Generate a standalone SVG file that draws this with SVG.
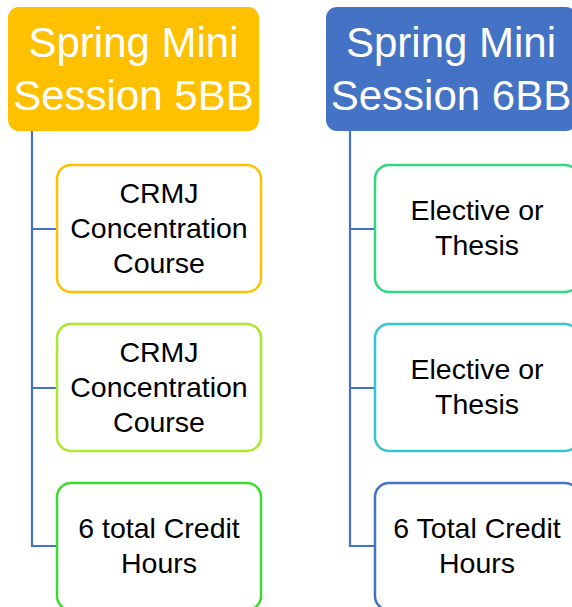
<svg xmlns="http://www.w3.org/2000/svg" width="572" height="607" viewBox="0 0 572 607">
<style>
.hdr text{font-family:"Liberation Sans",Arial,sans-serif;font-size:42px;fill:#ffffff;text-anchor:middle}
.box rect{fill:#ffffff;stroke-width:2.5}
.box text{font-family:"Liberation Sans",Arial,sans-serif;font-size:28.5px;fill:#000000;text-anchor:middle}
.conn{fill:none;stroke:#4472C4;stroke-width:2.2}
</style>
<rect width="572" height="607" fill="#ffffff"/>
<g id="connectors">
<path class="conn" d="M32,131 V546 H57 M32,229 H57 M32,388 H57"/>
<path class="conn" d="M350,131 V546 H375 M350,229 H375 M350,388 H375"/>
</g>
<g id="header5" class="hdr">
<rect x="8" y="7" width="251" height="124" rx="11" fill="#FFC000"/>
<text x="133.5" y="57">Spring Mini</text>
<text x="133.5" y="110">Session 5BB</text>
</g>
<g id="header6" class="hdr">
<rect x="326" y="7" width="251" height="124" rx="11" fill="#4472C4"/>
<text x="451" y="57">Spring Mini</text>
<text x="451" y="110">Session 6BB</text>
</g>
<g id="c1b1" class="box">
<rect x="57" y="165" width="204" height="127" rx="14" stroke="#FFC000"/>
<text x="159" y="203">CRMJ</text>
<text x="159" y="238">Concentration</text>
<text x="159" y="273">Course</text>
</g>
<g id="c1b2" class="box">
<rect x="57" y="324" width="204" height="127" rx="14" stroke="#A9E82A"/>
<text x="159" y="362">CRMJ</text>
<text x="159" y="397">Concentration</text>
<text x="159" y="432">Course</text>
</g>
<g id="c1b3" class="box">
<rect x="57" y="483" width="204" height="127" rx="14" stroke="#3CDC2E"/>
<text x="159" y="538">6 total Credit</text>
<text x="159" y="573">Hours</text>
</g>
<g id="c2b1" class="box">
<rect x="375" y="165" width="204" height="127" rx="14" stroke="#2FD77F"/>
<text x="477" y="220">Elective or</text>
<text x="477" y="255">Thesis</text>
</g>
<g id="c2b2" class="box">
<rect x="375" y="324" width="204" height="127" rx="14" stroke="#33C6CF"/>
<text x="477" y="379">Elective or</text>
<text x="477" y="414">Thesis</text>
</g>
<g id="c2b3" class="box">
<rect x="375" y="483" width="204" height="127" rx="14" stroke="#4472C4"/>
<text x="477" y="538">6 Total Credit</text>
<text x="477" y="573">Hours</text>
</g>
</svg>
